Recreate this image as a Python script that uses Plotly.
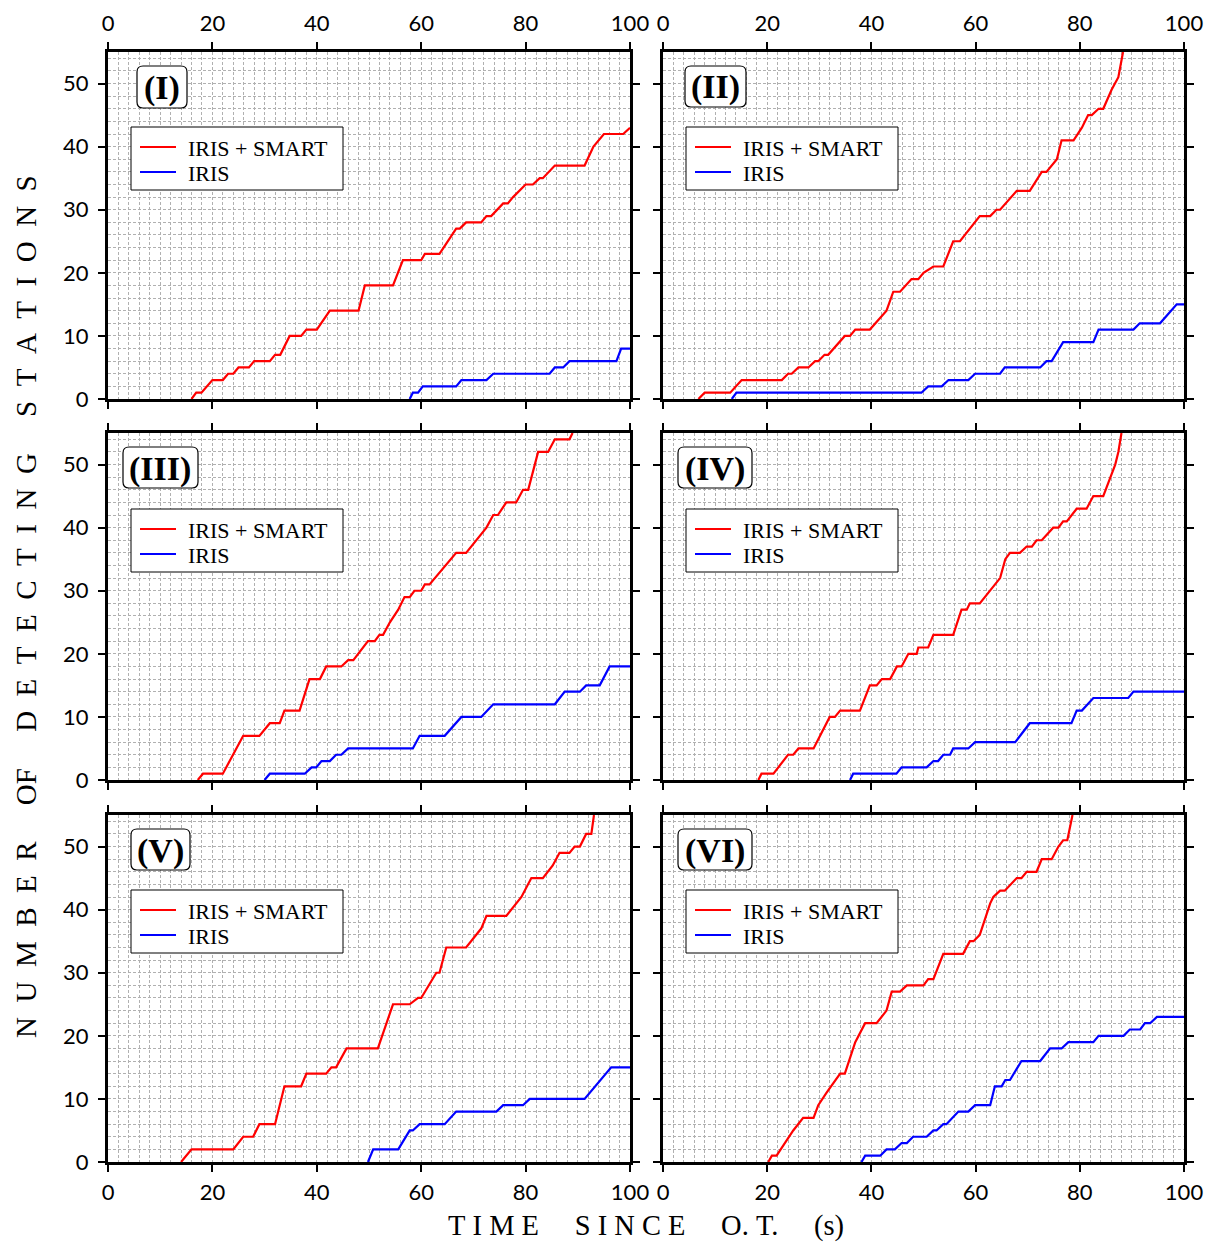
import plotly.graph_objects as go

W, H = 1215, 1244

# ---------------- data: (time since O.T. [s], number of detecting stations) ----------------
panel_labels = ["(I)", "(II)", "(III)", "(IV)", "(V)", "(VI)"]
series_names = ["IRIS + SMART", "IRIS"]
x_ticks = [0, 20, 40, 60, 80, 100]
y_ticks = [0, 10, 20, 30, 40, 50]

t_I_all = [16, 16.9, 17.9, 20, 22, 23, 24, 25, 27, 28, 31, 32, 33, 34.8, 37, 38, 40, 42.5, 48, 49.2,
           54.6, 56.5, 60, 60.7, 63.5, 66.7, 67.4, 68.6, 71.5, 72.5, 73.4, 75.7, 76.6, 77.6, 80,
           81.4, 82.7, 83.3, 85.6, 91.3, 93, 95, 98.7, 100]
n_I_all = [0, 1, 1, 3, 3, 4, 4, 5, 5, 6, 6, 7, 7, 10, 10, 11, 11, 14, 14, 18,
           18, 22, 22, 23, 23, 27, 27, 28, 28, 29, 29, 31, 31, 32, 34,
           34, 35, 35, 37, 37, 40, 42, 42, 43]
t_I_iris = [57.8, 58.4, 59.4, 60.3, 66.7, 67.7, 72.5, 73.8, 84.6, 85.6, 87.2, 88.4, 97.4, 98.3, 100]
n_I_iris = [0, 1, 1, 2, 2, 3, 3, 4, 4, 5, 5, 6, 6, 8, 8]

t_II_all = [6.8, 8, 12.9, 15.1, 22.8, 24, 24.7, 26, 27.9, 29.2, 29.8, 31, 31.7, 34.9, 35.9, 36.9, 39.7,
            42.9, 44.2, 45.5, 47.7, 49, 50, 51.9, 53.8, 55.7, 57, 60.8, 62.8, 64, 64.7, 67.9, 70.4,
            72.7, 73.6, 75.6, 76.5, 78.8, 80.4, 81.6, 82.3, 83.6, 84.5, 86.1, 87.4, 88.3]
n_II_all = [0, 1, 1, 3, 3, 4, 4, 5, 5, 6, 6, 7, 7, 10, 10, 11, 11,
            14, 17, 17, 19, 19, 20, 21, 21, 25, 25, 29, 29, 30, 30, 33, 33,
            36, 36, 38, 41, 41, 43, 45, 45, 46, 46, 49, 51, 55]
t_II_iris = [13.2, 14.1, 49.6, 50.9, 53.5, 54.8, 58.6, 59.9, 64.7, 65.6, 72.4, 73.6, 74.6, 76.8, 82.6,
             83.6, 90.3, 91.5, 95.4, 98.6, 100]
n_II_iris = [0, 1, 1, 2, 2, 3, 3, 4, 4, 5, 5, 6, 6, 9, 9,
             11, 11, 12, 12, 15, 15]

t_III_all = [17.2, 18.2, 22, 23.9, 25.9, 29, 30, 31, 32.9, 33.8, 36.7, 38.6, 40.6, 41.8, 44.7, 46, 47,
             48.9, 49.8, 51.1, 52, 52.7, 54, 55.6, 56.8, 57.8, 58.7, 60, 60.7, 61.6, 66.7, 68.6,
             72.5, 73.8, 74.7, 76.3, 78.2, 79.5, 80.5, 82.4, 84.3, 85.6, 88.4, 89]
n_III_all = [0, 1, 1, 4, 7, 7, 8, 9, 9, 11, 11, 16, 16, 18, 18, 19, 19,
             21, 22, 22, 23, 23, 25, 27, 29, 29, 30, 30, 31, 31, 36, 36,
             40, 42, 42, 44, 44, 46, 46, 52, 52, 54, 54, 55]
t_III_iris = [30, 31, 37.7, 39, 39.9, 40.9, 42.5, 43.7, 44.7, 46, 58.4, 59.7, 64.5, 67.7, 71.5, 73.8,
              85.6, 87.5, 90.4, 91.6, 94.2, 96.1, 100]
n_III_iris = [0, 1, 1, 2, 2, 3, 3, 4, 4, 5, 5, 7, 7, 10, 10, 12,
              12, 14, 14, 15, 15, 18, 18]

t_IV_all = [18.3, 18.9, 21.2, 24, 25, 26, 28.9, 30.8, 32, 33, 34, 37.8, 39.7, 41, 42, 43.6, 44.9, 45.8,
            47.1, 48.7, 49, 50.9, 51.9, 55.7, 57.3, 58.3, 58.9, 60.8, 64.7, 65.7, 66.6, 68.5, 69.8,
            70.8, 71.7, 72.7, 74.9, 75.9, 76.8, 77.5, 79.4, 81.3, 82.6, 84.5, 86.8, 87.4, 88]
n_IV_all = [0, 1, 1, 4, 4, 5, 5, 8, 10, 10, 11, 11, 15, 15, 16, 16, 18, 18,
            20, 20, 21, 21, 23, 23, 27, 27, 28, 28, 32, 35, 36, 36, 37,
            37, 38, 38, 40, 40, 41, 41, 43, 43, 45, 45, 50, 52, 55]
t_IV_iris = [35.9, 36.5, 44.8, 45.8, 50.6, 51.9, 52.8, 53.8, 55.1, 55.7, 58.6, 59.9, 67.6, 70.4, 78.4,
             79.4, 80.4, 82.6, 89.3, 90.3, 100]
n_IV_iris = [0, 1, 1, 2, 2, 3, 3, 4, 4, 5, 5, 6, 6, 9, 9,
             11, 11, 13, 13, 14, 14]

t_V_all = [14, 16, 24, 25.9, 27.8, 29, 32, 33.8, 37, 38, 41.8, 42.8, 43.7, 45.7, 51.7, 54.6, 57.8,
           59.4, 60, 62.9, 63.5, 64.8, 68.6, 71.5, 72.5, 76.3, 79.2, 81.1, 83.3, 85.2, 86.5, 88.4,
           89.4, 90.4, 91.6, 92.6, 93.1]
n_V_all = [0, 2, 2, 4, 4, 6, 6, 12, 12, 14, 14, 15, 15, 18, 18, 25, 25,
           26, 26, 30, 30, 34, 34, 37, 39, 39, 42, 45, 45, 47, 49, 49,
           50, 50, 52, 52, 55]
t_V_iris = [49.8, 50.8, 55.6, 57.8, 58.4, 59.7, 64.5, 66.7, 74.4, 75.7, 79.5, 80.8, 91.3, 96.4, 100]
n_V_iris = [0, 2, 2, 5, 5, 6, 6, 8, 8, 9, 9, 10, 10, 15, 15]

t_VI_all = [20.2, 20.9, 21.8, 25, 26.9, 28.9, 29.8, 31.4, 34, 34.9, 36.9, 37.5, 38.8, 41, 42.9, 43.9,
            45.5, 46.8, 50, 50.9, 51.9, 53.8, 57.6, 58.9, 59.6, 60.8, 62.8, 63.4, 64.7, 65.6, 67.9,
            68.8, 69.8, 71.7, 72.7, 74.6, 75.9, 76.8, 77.6, 78.6]
n_VI_all = [0, 1, 1, 5, 7, 7, 9, 11, 14, 14, 19, 20, 22, 22, 24, 27,
            27, 28, 28, 29, 29, 33, 33, 35, 35, 36, 41, 42, 43, 43, 45,
            45, 46, 46, 48, 48, 50, 51, 51, 55]
t_VI_iris = [38.1, 38.8, 41.7, 42.9, 44.5, 45.8, 46.8, 48, 50.6, 51.9, 52.5, 53.8, 54.4, 56.7, 58.6,
             59.9, 62.8, 63.7, 65, 65.7, 66.6, 68.8, 72.4, 74.3, 76.5, 77.8, 82.6, 83.6, 88.4, 89.6,
             91.6, 92.5, 93.5, 94.8, 100]
n_VI_iris = [0, 1, 1, 2, 2, 3, 3, 4, 4, 5, 5, 6, 6, 8, 8,
             9, 9, 12, 12, 13, 13, 16, 16, 18, 18, 19, 19, 20, 20, 21,
             21, 22, 22, 23, 23]

panels = [
    (t_I_all, n_I_all, t_I_iris, n_I_iris),
    (t_II_all, n_II_all, t_II_iris, n_II_iris),
    (t_III_all, n_III_all, t_III_iris, n_III_iris),
    (t_IV_all, n_IV_all, t_IV_iris, n_IV_iris),
    (t_V_all, n_V_all, t_V_iris, n_V_iris),
    (t_VI_all, n_VI_all, t_VI_iris, n_VI_iris),
]

# ---------------- layout geometry (pixels) ----------------
col_px = [(108, 630), (663, 1184)]
row_px = [(52, 399), (433, 780), (815, 1162)]
legend_px = [(131, 127), (686, 127), (131, 509), (686, 509), (131, 890), (686, 890)]
label_box_px = [(137, 187, 66, 108), (685, 746, 66, 107), (123, 198, 447, 488),
                (678, 752, 447, 488), (131, 190, 829, 870), (678, 752, 829, 870)]

RED = "#ff0000"
BLUE = "#0000ff"
COLORS = [RED, BLUE]
TICK_FONT = dict(family="Lato", size=22, color="black")
SERIF = "Liberation Serif"

fig = go.Figure()
layout = {}


def X(px):
    return px / W


def Y(py):
    return 1 - py / H


def rounded_rect(x0, x1, y0, y1, r=6):
    return (f"M {X(x0 + r)},{Y(y0)} L {X(x1 - r)},{Y(y0)} Q {X(x1)},{Y(y0)} {X(x1)},{Y(y0 + r)} "
            f"L {X(x1)},{Y(y1 - r)} Q {X(x1)},{Y(y1)} {X(x1 - r)},{Y(y1)} "
            f"L {X(x0 + r)},{Y(y1)} Q {X(x0)},{Y(y1)} {X(x0)},{Y(y1 - r)} "
            f"L {X(x0)},{Y(y0 + r)} Q {X(x0)},{Y(y0)} {X(x0 + r)},{Y(y0)} Z")


shapes = []
annotations = []

for i, (ta, na, tb, nb) in enumerate(panels):
    k = i + 1
    row, col = divmod(i, 2)
    xs = "" if k == 1 else str(k)
    xname, yname = "x" + xs, "y" + xs

    fig.add_trace(go.Scatter(x=ta, y=na, mode="lines", name=series_names[0],
                             line=dict(color=RED, width=2.2), xaxis=xname, yaxis=yname,
                             showlegend=False))
    fig.add_trace(go.Scatter(x=tb, y=nb, mode="lines", name=series_names[1],
                             line=dict(color=BLUE, width=2.2), xaxis=xname, yaxis=yname,
                             showlegend=False))

    cx0, cx1 = col_px[col]
    ry0, ry1 = row_px[row]
    grid = dict(showgrid=True, gridcolor="#b0b0b0", gridwidth=1, griddash="3px,2px")
    common = dict(ticks="outside", ticklen=7, tickwidth=2, tickcolor="black",
                  showline=True, linewidth=3, linecolor="black", mirror="allticks",
                  zeroline=False, tickfont=TICK_FONT, automargin=False,
                  minor=dict(dtick=2, tick0=0, ticks="", **grid), **grid)
    xa = dict(domain=[X(cx0), X(cx1)], range=[0, 100], anchor=yname,
              tickvals=x_ticks, ticktext=[str(v) for v in x_ticks],
              ticklabelstandoff=2, **common)
    if row == 0:
        xa.update(side="top", showticklabels=True)
    elif row == 2:
        xa.update(side="bottom", showticklabels=True)
    else:
        xa.update(showticklabels=False)
    ya = dict(domain=[Y(ry1), Y(ry0)], range=[0, 55], anchor=xname,
              tickvals=y_ticks, ticktext=[str(v) for v in y_ticks],
              ticklabelstandoff=5, showticklabels=(col == 0), **common)
    layout["xaxis" + xs] = xa
    layout["yaxis" + xs] = ya

    # legend box (drawn by hand so it matches the original geometry)
    lx, ly = legend_px[i]
    shapes.append(dict(type="rect", xref="paper", yref="paper",
                       x0=X(lx), x1=X(lx + 212), y0=Y(ly), y1=Y(ly + 63),
                       line=dict(color="black", width=1), fillcolor="white", layer="above"))
    for j, name in enumerate(series_names):
        yy = ly + 20 + 25 * j
        shapes.append(dict(type="line", xref="paper", yref="paper",
                           x0=X(lx + 9), x1=X(lx + 45), y0=Y(yy), y1=Y(yy),
                           line=dict(color=COLORS[j], width=2), layer="above"))
        annotations.append(dict(xref="paper", yref="paper", x=X(lx + 55), y=Y(yy + 1),
                                xanchor="left", yanchor="middle", showarrow=False, text=name,
                                font=dict(family=SERIF, size=22, color="black")))

    bx0, bx1, by0, by1 = label_box_px[i]
    shapes.append(dict(type="path", xref="paper", yref="paper",
                       path=rounded_rect(bx0, bx1, by0, by1),
                       line=dict(color="black", width=1.2), fillcolor="white", layer="above"))
    annotations.append(dict(xref="paper", yref="paper",
                            x=X((bx0 + bx1) / 2), y=Y((by0 + by1) / 2 + 1),
                            xanchor="center", yanchor="middle", showarrow=False,
                            text=panel_labels[i],
                            font=dict(family=SERIF, size=34, color="black", weight="bold")))

NB = "\u00a0"
x_title = (NB * 5).join([NB.join("TIME"), NB.join("SINCE"), "O." + NB + "T.", "(s)"])
y_title = (NB * 5).join([(NB * 2).join("NUMBER"), "OF", (NB * 2).join("DETECTING"),
                         (NB * 2).join("STATIONS")])

annotations.append(dict(xref="paper", yref="paper", x=X(646), y=0,
                        xanchor="center", yanchor="bottom", showarrow=False, text=x_title,
                        font=dict(family=SERIF, size=28.5, color="black")))
annotations.append(dict(xref="paper", yref="paper", x=X(26), y=Y(607),
                        xanchor="center", yanchor="middle", showarrow=False, text=y_title,
                        textangle=-90, font=dict(family=SERIF, size=29, color="black")))

fig.update_layout(**layout)
fig.update_layout(template="none", width=W, height=H, margin=dict(l=0, r=0, t=0, b=0, pad=0),
                  autosize=False, showlegend=False,
                  paper_bgcolor="white", plot_bgcolor="white",
                  shapes=shapes, annotations=annotations)

fig.write_html("out.html")
